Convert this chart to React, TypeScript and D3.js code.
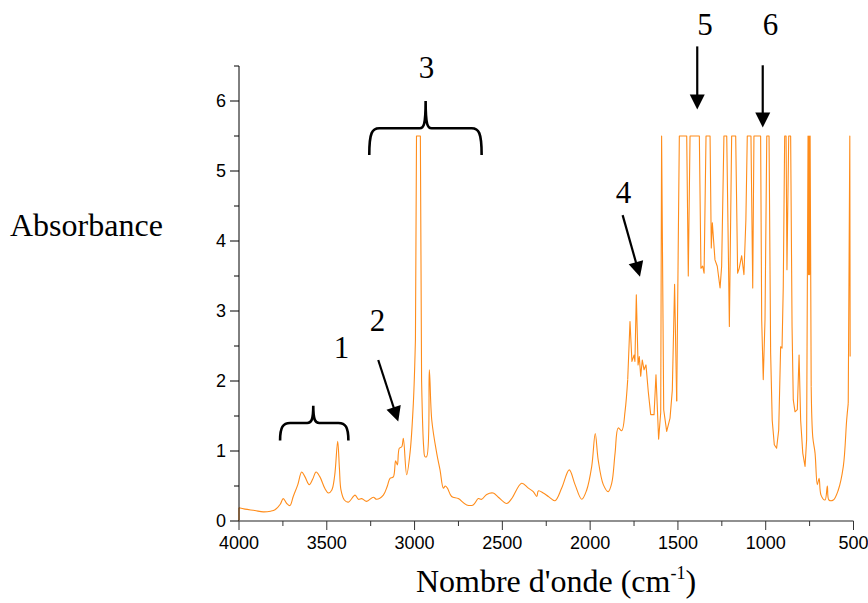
import React from 'react';
import * as d3 from 'd3';

const W = 868;
const H = 603;

// axis ticks
const xMajorTicks = [4000, 3500, 3000, 2500, 2000, 1500, 1000, 500];
const xMinorTicks = [3750, 3250, 2750, 2250, 1750, 1250, 750];
const yMajorTicks = [0, 1, 2, 3, 4, 5, 6];
const yMinorTicks = [0.5, 1.5, 2.5, 3.5, 4.5, 5.5, 6.5];

// spectrum [wavenumber cm-1, absorbance]
const spectrumEdge: [number, number][] = [[4000, 0], [4000, 0.19]];

const spectrumOH: [number, number][] = [
  [4000, 0.19], [3966, 0.17], [3910, 0.15], [3862, 0.13], [3820, 0.14], [3795, 0.16],
  [3765, 0.24], [3748, 0.32], [3728, 0.25], [3710, 0.22], [3691, 0.35], [3665, 0.52],
  [3643, 0.70], [3624, 0.63], [3600, 0.52], [3580, 0.6], [3561, 0.70], [3539, 0.63],
  [3510, 0.46], [3491, 0.40], [3472, 0.44], [3455, 0.65], [3438, 1.14], [3428, 0.75],
  [3419, 0.44], [3400, 0.3], [3377, 0.27], [3339, 0.37], [3320, 0.31], [3301, 0.32],
  [3273, 0.28], [3235, 0.34], [3216, 0.31], [3178, 0.37], [3155, 0.5], [3140, 0.61],
  [3121, 0.63], [3108, 0.86], [3098, 0.80], [3087, 1.04], [3073, 1.06], [3064, 1.18],
  [3045, 0.66], [3026, 0.97], [3007, 1.68], [2995, 2.6],
];

const spectrumCHtop: [number, number][] = [
  [2995, 2.6], [2989, 5.5], [2967, 5.5], [2960, 2.0],
];

const spectrumCH: [number, number][] = [
  [2960, 2.0], [2948, 1.05], [2941, 0.92], [2931, 0.92],
  [2916, 2.16], [2902, 1.44], [2874, 0.97], [2855, 0.73], [2836, 0.47], [2825, 0.5],
  [2813, 0.47], [2789, 0.35], [2751, 0.32], [2703, 0.23], [2666, 0.23], [2637, 0.32],
  [2618, 0.31], [2589, 0.38], [2552, 0.40], [2523, 0.34], [2475, 0.25], [2447, 0.32],
  [2390, 0.54], [2352, 0.47], [2324, 0.42], [2304, 0.35], [2295, 0.43], [2267, 0.40],
  [2238, 0.35], [2200, 0.29], [2162, 0.47], [2119, 0.73], [2086, 0.52], [2048, 0.31],
  [2020, 0.44], [1991, 0.78], [1971, 1.25], [1954, 0.87], [1925, 0.52], [1897, 0.42],
  [1877, 0.54], [1858, 0.97], [1840, 1.33], [1820, 1.29], [1801, 1.57], [1786, 2.02],
];

const spectrumCO: [number, number][] = [
  [1786, 2.02], [1773, 2.85], [1762, 2.28], [1750, 2.37], [1745, 2.28], [1737, 3.23], [1727, 2.23],
  [1720, 2.35], [1712, 2.07], [1703, 2.30], [1693, 2.16], [1682, 2.23], [1669, 1.85],
  [1655, 1.52], [1636, 1.52], [1625, 2.09], [1610, 1.17], [1598, 1.55], [1593, 5.5],
  [1581, 1.59], [1564, 1.28], [1545, 1.47], [1532, 1.87], [1519, 3.38], [1507, 1.71],
];

const spectrumFingerprint: [number, number][] = [
  [1507, 1.71], [1492, 5.5], [1450, 5.5], [1441, 3.5], [1431, 5.5], [1378, 5.5], [1369, 3.61],
  [1359, 3.64], [1351, 3.54], [1340, 5.5], [1317, 5.5], [1310, 3.9], [1304, 4.26],
  [1289, 3.73], [1276, 3.64], [1260, 3.33], [1251, 3.64], [1238, 5.5], [1222, 5.5],
  [1207, 2.78], [1194, 5.5], [1171, 5.5], [1160, 3.54], [1151, 3.61], [1137, 3.79],
  [1124, 3.52], [1113, 4.30], [1105, 5.5], [1084, 5.5], [1074, 3.33], [1067, 5.5],
  [1029, 5.5], [1023, 2.88], [1014, 2.02], [1004, 2.88], [994, 5.5], [981, 5.5],
  [972, 2.40], [963, 1.44], [951, 1.09], [938, 1.04], [926, 1.30], [915, 2.49],
  [907, 2.47], [900, 3.35], [892, 5.5], [884, 5.5], [879, 3.59], [869, 5.5], [858, 5.5],
  [850, 2.78], [843, 1.73], [833, 1.56], [820, 1.59], [810, 2.37], [801, 1.44],
  [789, 0.97], [776, 0.78], [767, 1.16], [759, 5.5], [756, 3.52], [753, 5.5],
  [750, 3.52], [747, 5.5], [741, 1.92],
];

const spectrumTail: [number, number][] = [
  [741, 1.92], [732, 1.2], [719, 0.97], [706, 0.52],
  [696, 0.61], [685, 0.37], [662, 0.30], [649, 0.50], [640, 0.30], [615, 0.30],
  [587, 0.44], [558, 0.78], [539, 1.44], [530, 1.68],
];

const spectrumEnd: [number, number][] = [[530, 1.68], [521, 5.5], [519, 2.35]];

// annotations (in data units)
const labels = [
  { text: '1', w: 3416, a: 2.33 },
  { text: '2', w: 3211, a: 2.71 },
  { text: '3', w: 2932, a: 6.33 },
  { text: '4', w: 1810, a: 4.54 },
  { text: '5', w: 1346, a: 6.94 },
  { text: '6', w: 973, a: 6.94 },
];
const arrows = [
  { w0: 3207, a0: 2.30, w1: 3093, a1: 1.42 },
  { w0: 1815, a0: 4.37, w1: 1716, a1: 3.49 },
  { w0: 1390, a0: 6.78, w1: 1390, a1: 5.88 },
  { w0: 1017, a0: 6.51, w1: 1017, a1: 5.62 },
];
const braces = [
  { wl: 3766, wr: 3377, wc: 3577, aEnd: 1.15, aBar: 1.40, aTip: 1.645 },
  { wl: 3258, wr: 2618, wc: 2937, aEnd: 5.23, aBar: 5.61, aTip: 6.0 },
];

const x = d3.scaleLinear().domain([4000, 500]).range([239, 853.5]);
const y = d3.scaleLinear().domain([0, 6.5]).range([521, 66]);

const sans = '"Liberation Sans", Arial, sans-serif';
const serif = '"Liberation Serif", "Times New Roman", serif';

function bracePath(b: typeof braces[0]) {
  const x0 = x(b.wl), x1 = x(b.wr), xc = x(b.wc);
  const ye = y(b.aEnd), yb = y(b.aBar), yt = y(b.aTip);
  const r = Math.min(10, (xc - x0) / 3);
  const r2 = 6;
  return `M${x0},${ye} C${x0},${yb + 4} ${x0 + 3},${yb} ${x0 + r},${yb} L${xc - r2},${yb} C${xc - 2},${yb} ${xc},${yb - 3} ${xc},${yt} C${xc},${yb - 3} ${xc + 2},${yb} ${xc + r2},${yb} L${x1 - r},${yb} C${x1 - 3},${yb} ${x1},${yb + 4} ${x1},${ye}`;
}

function arrowParts(a: typeof arrows[0]) {
  const sx = x(a.w0), sy = y(a.a0), tx = x(a.w1), ty = y(a.a1);
  const dx = tx - sx, dy = ty - sy;
  const len = Math.hypot(dx, dy);
  const ux = dx / len, uy = dy / len;
  const nx = -uy, ny = ux;
  const hl = 15, hw = 7.5;
  const bx = tx - ux * hl, by = ty - uy * hl;
  return {
    line: { x1: sx, y1: sy, x2: bx + ux * 2, y2: by + uy * 2 },
    head: `${tx},${ty} ${bx + nx * hw},${by + ny * hw} ${bx - nx * hw},${by - ny * hw}`,
  };
}

export default function App() {
  const lin = d3.line<[number, number]>().x((d) => x(d[0])).y((d) => y(d[1]));
  const smooth = d3
    .line<[number, number]>()
    .x((d) => x(d[0]))
    .y((d) => y(d[1]))
    .curve(d3.curveCatmullRom.alpha(0.5));
  const stroke = '#ff8c1a';
  const sw = 1.1;
  const pieces: { d: string }[] = [
    { d: lin(spectrumEdge) || '' },
    { d: smooth(spectrumOH) || '' },
    { d: lin(spectrumCHtop) || '' },
    { d: smooth(spectrumCH) || '' },
    { d: lin(spectrumCO) || '' },
    { d: lin(spectrumFingerprint) || '' },
    { d: smooth(spectrumTail) || '' },
    { d: lin(spectrumEnd) || '' },
  ];
  return (
    <svg width={W} height={H} style={{ position: 'absolute', left: 0, top: 0, background: '#fff' }}>
      <rect width={W} height={H} fill="#fff" />
      {/* spectrum */}
      {pieces.map((p, i) => (
        <path key={'s' + i} d={p.d} fill="none" stroke={stroke} strokeWidth={sw} strokeLinejoin="round" />
      ))}

      {/* y axis */}
      <line x1={x(4000)} x2={x(4000)} y1={y(0)} y2={y(6.5)} stroke="#000" strokeWidth={1} />
      {yMajorTicks.map((t) => (
        <g key={'ym' + t}>
          <line x1={x(4000) - 9} x2={x(4000)} y1={y(t)} y2={y(t)} stroke="#000" />
          <text x={x(4000) - 13} y={y(t)} dy="0.36em" textAnchor="end" fontFamily={sans} fontSize={18} fill="#000">
            {t}
          </text>
        </g>
      ))}
      {yMinorTicks.map((t) => (
        <line key={'yn' + t} x1={x(4000) - 5} x2={x(4000)} y1={y(t)} y2={y(t)} stroke="#000" />
      ))}

      {/* x axis */}
      <line x1={x(4000)} x2={x(500)} y1={y(0)} y2={y(0)} stroke="#6b6b6b" strokeWidth={1.5} />
      {xMajorTicks.map((t) => (
        <g key={'xm' + t}>
          <line x1={x(t)} x2={x(t)} y1={y(0)} y2={y(0) + 9} stroke="#333" />
          <text x={x(t)} y={y(0) + 28} textAnchor="middle" fontFamily={sans} fontSize={18} fill="#000">
            {t}
          </text>
        </g>
      ))}
      {xMinorTicks.map((t) => (
        <line key={'xn' + t} x1={x(t)} x2={x(t)} y1={y(0)} y2={y(0) + 5} stroke="#333" />
      ))}

      {/* axis titles */}
      <text x={10} y={236} fontFamily={serif} fontSize={32} fill="#000">Absorbance</text>
      <text x={556} y={592} textAnchor="middle" fontFamily={serif} fontSize={32} fill="#000">
        <tspan>Nombre d'onde (cm</tspan>
        <tspan dy={-13} fontSize={18}>-1</tspan>
        <tspan dy={13}>)</tspan>
      </text>

      {/* annotations */}
      {braces.map((b, i) => (
        <path key={'b' + i} d={bracePath(b)} fill="none" stroke="#000" strokeWidth={2.6} />
      ))}
      {arrows.map((a, i) => {
        const p = arrowParts(a);
        return (
          <g key={'a' + i}>
            <line {...p.line} stroke="#000" strokeWidth={2.2} />
            <polygon points={p.head} fill="#000" />
          </g>
        );
      })}
      {labels.map((l) => (
        <text key={'l' + l.text} x={x(l.w)} y={y(l.a)} textAnchor="middle" fontFamily={serif} fontSize={31} fill="#000">
          {l.text}
        </text>
      ))}
    </svg>
  );
}
